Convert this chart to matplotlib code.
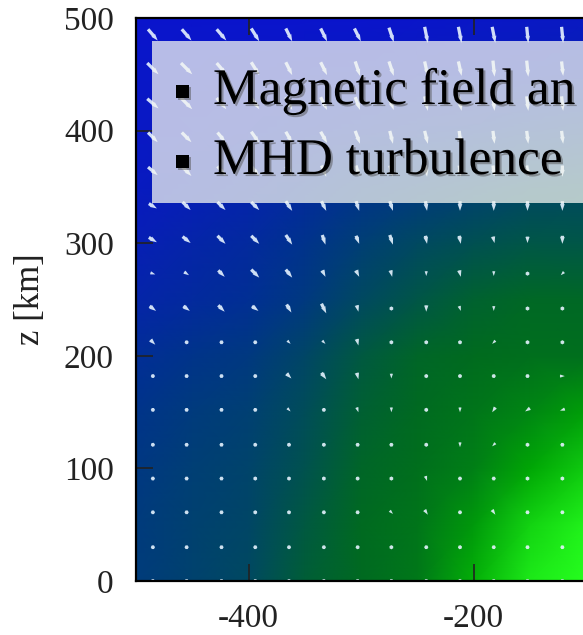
import matplotlib
matplotlib.use("Agg")
import matplotlib.pyplot as plt
import matplotlib.patheffects as pe
from matplotlib.colors import LinearSegmentedColormap
from matplotlib.patches import Rectangle
import numpy as np

# scalar field sampled on a coarse grid (rows from z=0 upward)
FIELD_X = [-500, -450, -400, -350, -300, -250, -200, -150, -100]
FIELD_Z = [0, 50, 100, 150, 200, 250, 300, 350, 400, 450, 500]
FIELD = [
    [0.32, 0.37, 0.42, 0.55, 0.61, 0.66, 0.82, 0.95, 1.00],
    [0.31, 0.36, 0.40, 0.52, 0.61, 0.65, 0.76, 0.90, 0.97],
    [0.29, 0.34, 0.38, 0.48, 0.59, 0.63, 0.68, 0.80, 0.88],
    [0.26, 0.31, 0.35, 0.45, 0.56, 0.61, 0.65, 0.70, 0.78],
    [0.21, 0.26, 0.30, 0.40, 0.52, 0.59, 0.62, 0.63, 0.63],
    [0.14, 0.18, 0.22, 0.30, 0.42, 0.50, 0.57, 0.60, 0.60],
    [0.09, 0.14, 0.18, 0.25, 0.34, 0.42, 0.47, 0.50, 0.50],
    [0.05, 0.08, 0.12, 0.18, 0.25, 0.30, 0.35, 0.40, 0.42],
    [0.03, 0.04, 0.06, 0.09, 0.12, 0.15, 0.18, 0.22, 0.25],
    [0.02, 0.02, 0.03, 0.04, 0.05, 0.06, 0.07, 0.08, 0.10],
    [0.00, 0.00, 0.00, 0.00, 0.00, 0.01, 0.02, 0.03, 0.04],
]

# magnetic field vectors (rows from z=0 upward)
ARROW_X = [-485, -455, -424, -394, -364, -333, -303, -273, -242, -212, -182, -152, -121]
ARROW_Z = [0, 30, 61, 91, 121, 152, 182, 212, 242, 273, 303, 333, 364, 394, 424, 455, 485]
U = [
    [1, 1, 1, 1, 1, 1, 1, 1, 1, 1, 1, 1, 1],
    [1, 1, 2, 1, 2, 1, 1, 2, 1, 1, 1, 1, 1],
    [1, 1, 2, 2, 2, 1, 1, 2, 2, 1, 2, 1, 1],
    [1, 2, 2, 2, 2, 2, 1, 0, 1, 1, 1, 0, 0],
    [1, 1, 1, 1, 1, 1, 1, 1, 0, 0, -2, -2, -2],
    [1, 1, 1, 1, 2, 1, 1, 0, 0, 0, -2, -3, -3],
    [1, 1, 1, 1, 3, 3, 1, 0, 0, 0, 1, 2, 3],
    [3, 1, 1, 1, 2, 2, 1, 0, 0, 0, -2, 0, 0],
    [4, 4, 4, 4, 3, 3, 1, 0, 0, 1, 0, 0, 0],
    [3, 3, 4, 5, 4, 2, 2, 1, 0, 1, 0, 0, -2],
    [5, 5, 5, 5, 4, 2, 2, 2, 1, 1, 1, 0, 0],
    [5, 5, 5, 5, 4, 3, 2, 2, 1, 0, 0, 0, 0],
    [6, 6, 5, 5, 4, 3, 2, 2, 1, 1, 1, 1, 0],
    [6, 6, 5, 5, 4, 4, 3, 2, 2, 1, 1, 1, 1],
    [7, 7, 6, 5, 4, 4, 3, 3, 2, 2, 1, 1, 1],
    [7, 7, 6, 5, 4, 4, 3, 3, 2, 2, 1, 1, 1],
    [6, 6, 6, 5, 4, 4, 4, 3, 2, 2, 2, 1, 1],
]
V = [
    [0, 0, 0, 0, 0, 0, 0, 0, 0, 0, 0, 0, 0],
    [0, 0, 0, 0, 0, 0, -1, -1, 0, -1, 0, 0, 0],
    [0, 0, 0, -1, -1, 0, 0, -2, -3, 0, -3, 0, 0],
    [0, 0, 0, -1, -1, -1, -1, -2, -3, 0, 0, -2, -1],
    [-1, 0, 0, -1, -1, -1, 0, 0, -1, -3, -2, -1, 0],
    [0, 0, 0, 0, -2, -2, -3, -3, -2, -3, -3, -2, -1],
    [0, 0, 0, 0, -3, -4, -4, -3, -1, -2, 0, 0, 0],
    [-3, -1, 0, 0, -2, -2, -4, -2, -2, -2, -2, -1, -2],
    [-3, -3, -4, -3, -5, -6, -4, -2, -4, -3, -3, -2, -1],
    [-1, -2, -4, -5, -5, -4, -4, -4, -3, -4, -3, -2, -2],
    [-3, -4, -5, -5, -6, -6, -5, -6, -5, -5, -4, -4, -5],
    [-3, -5, -5, -5, -6, -6, -6, -6, -6, -6, -6, -6, -6],
    [-5, -6, -6, -6, -6, -7, -7, -7, -7, -7, -7, -7, -7],
    [-6, -6, -6, -7, -7, -7, -8, -8, -8, -8, -8, -8, -8],
    [-6, -7, -7, -7, -8, -8, -8, -8, -9, -9, -9, -9, -9],
    [-7, -7, -7, -8, -8, -8, -9, -9, -9, -9, -10, -10, -9],
    [-7, -7, -7, -8, -8, -8, -8, -9, -10, -10, -10, -10, -10],
]

X_TICKS = [-400, -200]
Z_TICKS = [0, 100, 200, 300, 400, 500]
BULLETS = ["Magnetic field an", "MHD turbulence"]

plt.rcParams["axes.unicode_minus"] = False

cmap = LinearSegmentedColormap.from_list("bluegreen", [
    (0.00, (0.04, 0.08, 0.80)),
    (0.25, (0.00, 0.20, 0.55)),
    (0.45, (0.00, 0.30, 0.35)),
    (0.62, (0.00, 0.42, 0.12)),
    (0.80, (0.00, 0.65, 0.02)),
    (1.00, (0.15, 1.00, 0.12)),
])

fig = plt.figure(figsize=(5.83, 6.35), dpi=100)
# axes reaches past the right edge of the figure, as in the cropped original
ax = fig.add_axes([136 / 583, 54 / 635, 1125 / 583, 563 / 635])

ax.pcolormesh(FIELD_X, FIELD_Z, np.array(FIELD), shading="gouraud",
              cmap=cmap, vmin=0, vmax=1, zorder=1)

ax.quiver(ARROW_X, ARROW_Z, np.array(U), np.array(V),
          angles="xy", scale_units="xy", scale=0.7, pivot="middle",
          color="#e6f3ff", alpha=0.9, width=0.0029, minlength=1.3,
          headwidth=1.5, headlength=2.2, headaxislength=2.0, zorder=2)

ax.set_xlim(-500, 500)
ax.set_ylim(0, 500)
ax.set_xticks(X_TICKS)
ax.set_yticks(Z_TICKS)
ax.tick_params(direction="in", length=12, width=1.2, top=True, right=False,
               labelsize=24, pad=16, colors="#222222")
for lab in ax.get_xticklabels() + ax.get_yticklabels():
    lab.set_fontfamily("Liberation Serif")
for sp in ax.spines.values():
    sp.set_linewidth(1.6)
ax.set_ylabel("z [km]", family="Liberation Serif", fontsize=25, color="#222222", labelpad=12)

# translucent text box over the plot
ax.add_patch(Rectangle((-486, 336), 1200, 144, facecolor=(0.96, 0.97, 0.95),
                       edgecolor="none", alpha=0.74, zorder=3))

shadow = [pe.withSimplePatchShadow(offset=(1.5, -1.5), shadow_rgbFace="#555555", alpha=0.5)]
for k, line in enumerate(BULLETS):
    y = 1 - (104 + 70 * k) / 635
    fig.text(174 / 583, y + 13 / 635, "\u25aa", family="DejaVu Sans", fontsize=18,
             va="center", ha="left", zorder=5, path_effects=shadow)
    fig.text(213 / 583, y, line, family="Liberation Serif", fontsize=37,
             va="baseline", ha="left", zorder=5, path_effects=shadow)

fig.savefig("out.png", dpi=100)
